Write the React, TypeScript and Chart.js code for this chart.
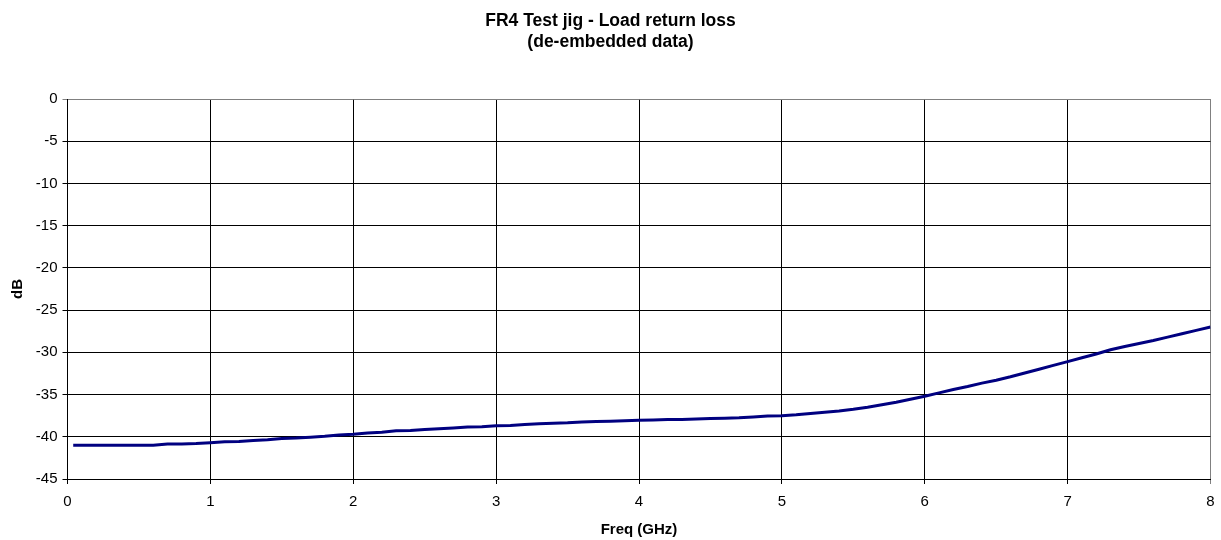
import React, { useEffect, useRef } from "react";
import { Chart, registerables } from "chart.js";

Chart.register(...registerables);

const TITLE_LINES = ["FR4 Test jig - Load return loss", "(de-embedded data)"];
const X_TITLE = "Freq (GHz)";
const Y_TITLE = "dB";

const freqGHz = [
  0.04, 0.1, 0.2, 0.3, 0.4, 0.5, 0.6, 0.7, 0.8, 0.9,
  1.0, 1.1, 1.2, 1.3, 1.4, 1.5, 1.6, 1.7, 1.8, 1.9,
  2.0, 2.1, 2.2, 2.3, 2.4, 2.5, 2.6, 2.7, 2.8, 2.9,
  3.0, 3.1, 3.2, 3.3, 3.4, 3.5, 3.6, 3.7, 3.8, 3.9,
  4.0, 4.1, 4.2, 4.3, 4.4, 4.5, 4.6, 4.7, 4.8, 4.9,
  5.0, 5.1, 5.2, 5.3, 5.4, 5.5, 5.6, 5.7, 5.8, 5.9,
  6.0, 6.1, 6.2, 6.3, 6.4, 6.5, 6.6, 6.7, 6.8, 6.9,
  7.0, 7.1, 7.2, 7.3, 7.4, 7.5, 7.6, 7.7, 7.8, 7.9,
  8.0,
];

const returnLossDb = [
  -41.0, -41.0, -41.0, -41.0, -41.0, -41.0, -41.0, -40.85, -40.85, -40.8,
  -40.7, -40.6, -40.55, -40.45, -40.35, -40.2, -40.15, -40.05, -39.95, -39.8,
  -39.7, -39.55, -39.45, -39.3, -39.25, -39.15, -39.05, -38.95, -38.85, -38.8,
  -38.7, -38.65, -38.55, -38.45, -38.4, -38.35, -38.25, -38.2, -38.15, -38.1,
  -38.05, -38.0, -37.95, -37.95, -37.9, -37.85, -37.8, -37.75, -37.65, -37.55,
  -37.5, -37.4, -37.25, -37.1, -36.95, -36.75, -36.5, -36.2, -35.9, -35.55,
  -35.2, -34.8, -34.4, -34.05, -33.65, -33.3, -32.9, -32.45, -32.0, -31.55,
  -31.1, -30.65, -30.2, -29.7, -29.3, -28.95, -28.6, -28.2, -27.8, -27.4,
  -27.0,
];

const X_MIN = 0;
const X_MAX = 8;
const X_STEP = 1;
const Y_MIN = -45;
const Y_MAX = 0;
const Y_STEP = 5;

const FONT = "'Liberation Sans', Arial, sans-serif";

const titlePlugin = {
  id: "twoLineTitle",
  afterDraw(chart: any) {
    const ctx = chart.ctx;
    ctx.save();
    ctx.fillStyle = "#000";
    ctx.font = `bold 17.5px ${FONT}`;
    ctx.textAlign = "center";
    ctx.textBaseline = "middle";
    const cx = chart.width / 2;
    ctx.fillText(TITLE_LINES[0], cx, 21);
    ctx.fillText(TITLE_LINES[1], cx, 42);
    ctx.restore();
  },
};

export default function App() {
  const canvasRef = useRef<HTMLCanvasElement | null>(null);

  useEffect(() => {
    if (!canvasRef.current) return;
    Chart.defaults.font.family = FONT;
    const points = freqGHz.map((f, i) => ({ x: f, y: returnLossDb[i] }));
    const chart = new Chart(canvasRef.current, {
      type: "line",
      data: {
        datasets: [
          {
            data: points,
            borderColor: "#000080",
            borderWidth: 3,
            pointRadius: 0,
            fill: false,
            tension: 0,
          },
        ],
      },
      options: {
        animation: false,
        responsive: true,
        maintainAspectRatio: false,
        devicePixelRatio: 1,
        layout: { padding: { top: 99, right: 10.5, left: 0, bottom: 0 } },
        plugins: {
          legend: { display: false },
          tooltip: { enabled: false },
          title: { display: false },
        },
        scales: {
          x: {
            type: "linear",
            min: X_MIN,
            max: X_MAX,
            afterFit: (scale: any) => {
              scale.height = 61;
              scale.paddingRight = 0;
              scale.paddingLeft = 0;
            },
            ticks: {
              stepSize: X_STEP,
              color: "#000",
              font: { size: 15 },
              padding: 9,
              maxRotation: 0,
            },
            grid: {
              color: (c: any) => (c.tick && c.tick.value === X_MAX ? "#808080" : "#000"),
              lineWidth: 1,
              tickLength: 5,
              drawTicks: true,
            },
            border: { display: true, color: "#000", width: 1 },
            title: {
              display: true,
              text: X_TITLE,
              color: "#000",
              font: { size: 15, weight: "bold" },
              padding: { top: 0, bottom: 1 },
            },
          },
          y: {
            type: "linear",
            min: Y_MIN,
            max: Y_MAX,
            afterFit: (scale: any) => {
              scale.width = 67.5;
              scale.paddingTop = 0;
              scale.paddingBottom = 0;
            },
            ticks: {
              stepSize: Y_STEP,
              color: "#000",
              font: { size: 15 },
              padding: 5,
            },
            grid: {
              color: (c: any) => (c.tick && c.tick.value === Y_MAX ? "#808080" : "#000"),
              lineWidth: 1,
              tickLength: 5,
              drawTicks: true,
            },
            border: { display: true, color: "#000", width: 1 },
            title: {
              display: true,
              text: Y_TITLE,
              color: "#000",
              font: { size: 15, weight: "bold" },
              padding: { top: 9, bottom: 0 },
            },
          },
        },
      },
      plugins: [titlePlugin],
    });
    return () => chart.destroy();
  }, []);

  return (
    <div
      style={{
        position: "fixed",
        left: 0,
        top: 0,
        width: 1221,
        height: 540,
        background: "#fff",
      }}
    >
      <canvas ref={canvasRef} />
    </div>
  );
}
